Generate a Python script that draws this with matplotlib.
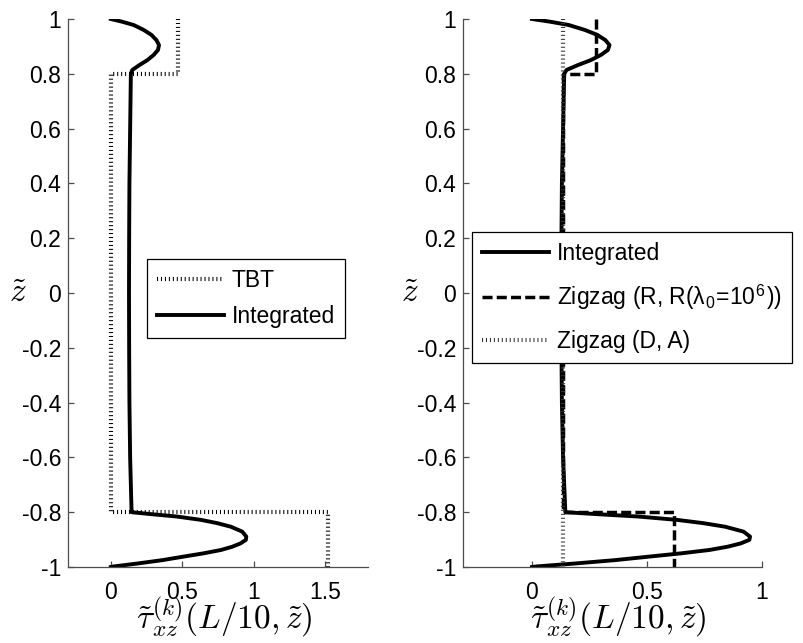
import matplotlib
matplotlib.use("Agg")
import matplotlib.pyplot as plt

plt.rcParams['font.family'] = ['Liberation Sans', 'DejaVu Sans']
plt.rcParams['mathtext.fontset'] = 'cm'

# ---- data ----
# Integrated solution: top face, core, bottom face
z_top = [1.0, 0.99, 0.978, 0.96, 0.942, 0.923, 0.905, 0.887, 0.869, 0.85, 0.832, 0.814, 0.8]
tau_top = [0.0, 0.08, 0.16, 0.23, 0.284, 0.319, 0.337, 0.33, 0.30, 0.256, 0.20, 0.15, 0.14]
z_core = [0.8, 0.6, 0.4, 0.2, 0.0, -0.2, -0.4, -0.6, -0.8]
tau_core = [0.14, 0.135, 0.13, 0.128, 0.127, 0.128, 0.13, 0.135, 0.145]
z_bot = [-0.8, -0.807, -0.816, -0.828, -0.84, -0.853, -0.871, -0.889, -0.901,
         -0.914, -0.926, -0.938, -0.95, -0.962, -0.975, -0.987, -0.998, -1.0]
tau_bot = [0.15, 0.28, 0.465, 0.63, 0.745, 0.84, 0.92, 0.948, 0.945,
           0.907, 0.85, 0.77, 0.65, 0.51, 0.36, 0.19, 0.02, 0.0]

z_int = z_top + z_core[1:] + z_bot[1:]
tau_int = tau_top + tau_core[1:] + tau_bot[1:]

# piecewise-constant models
z_step = [1.0, 0.8, 0.8, -0.8, -0.8, -1.0]
tau_tbt = [0.47, 0.47, 0.0, 0.0, 1.52, 1.52]
tau_zz_r = [0.28, 0.28, 0.135, 0.135, 0.617, 0.617]
tau_zz_d = [0.133, 0.133, 0.133, 0.133, 0.133, 0.133]

yticks = [-1, -0.8, -0.6, -0.4, -0.2, 0, 0.2, 0.4, 0.6, 0.8, 1]
ytick_labels = ['-1', '-0.8', '-0.6', '-0.4', '-0.2', '0', '0.2', '0.4', '0.6', '0.8', '1']
xticks_left = [0, 0.5, 1, 1.5]
xtick_labels_left = ['0', '0.5', '1', '1.5']
xticks_right = [0, 0.5, 1]
xtick_labels_right = ['0', '0.5', '1']

xlabel = r'$\tilde{\tau}_{xz}^{(k)}(L/10,\tilde{z})$'
ylabel = r'$\tilde{z}$'

fig = plt.figure(figsize=(8.04, 6.43), dpi=100)
axL = fig.add_axes([68/804, 1-567/643, 300/804, 548/643])
axR = fig.add_axes([463/804, 1-567/643, 299/804, 548/643])

dot = (0, (0.25, 0.7))
dash = (0, (2.9, 1.2))

# left panel
axL.plot(tau_tbt, z_step, color='black', lw=3.0, linestyle=dot, dash_capstyle='butt', label='TBT')
axL.plot(tau_int, z_int, color='black', lw=2.8, label='Integrated')
axL.set_xlim(-0.3, 1.8)
axL.set_xticks(xticks_left)
axL.set_xticklabels(xtick_labels_left)

# right panel
axR.plot(tau_int, z_int, color='black', lw=2.8, label='Integrated')
axR.plot(tau_zz_r, z_step, color='black', lw=2.5, linestyle=dash, dash_capstyle='butt',
         label='Zigzag (R, R(λ$_\\mathregular{0}$=10$^\\mathregular{6}$))')
axR.plot(tau_zz_d, z_step, color='0.2', lw=3.0, linestyle=dot, dash_capstyle='butt', label='Zigzag (D, A)')
axR.set_xlim(-0.3, 1.0)
axR.set_xticks(xticks_right)
axR.set_xticklabels(xtick_labels_right)

for ax in (axL, axR):
    ax.set_ylim(-1, 1)
    ax.set_yticks(yticks)
    ax.set_yticklabels(ytick_labels)
    for s in ('top', 'right'):
        ax.spines[s].set_visible(False)
    for s in ('left', 'bottom'):
        ax.spines[s].set_color('0.3')
        ax.spines[s].set_linewidth(0.9)
    ax.tick_params(axis='both', direction='in', length=4, width=0.9, color='0.3',
                   labelsize=16.5, top=False, right=False)
    ax.tick_params(axis='y', pad=5)
    ax.tick_params(axis='x', pad=10)
    ax.set_xlabel(xlabel, fontsize=24, va='top')
    ax.xaxis.set_label_coords(0.52, -0.052)
    ax.set_ylabel(ylabel, fontsize=24, rotation=0, va='center', ha='center')

axL.yaxis.set_label_coords(-0.167, 0.5)
axR.yaxis.set_label_coords(-0.177, 0.5)

legL = axL.legend(loc='upper left', bbox_to_anchor=(147/804, 1-259/643), bbox_transform=fig.transFigure,
                  fontsize=16.5, frameon=True, fancybox=False, framealpha=1, edgecolor='black',
                  handlelength=2.9, handletextpad=0.35, labelspacing=0.55, borderpad=0.45,
                  borderaxespad=0)
legL.get_frame().set_linewidth(0.9)

legR = axR.legend(loc='upper left', bbox_to_anchor=(472/804, 1-232/643), bbox_transform=fig.transFigure,
                  fontsize=16.5, frameon=True, fancybox=False, framealpha=1, edgecolor='black',
                  handlelength=2.9, handletextpad=0.35, labelspacing=0.75, borderpad=0.45,
                  borderaxespad=0)
legR.get_frame().set_linewidth(0.9)

fig.savefig('out.png', dpi=100)
